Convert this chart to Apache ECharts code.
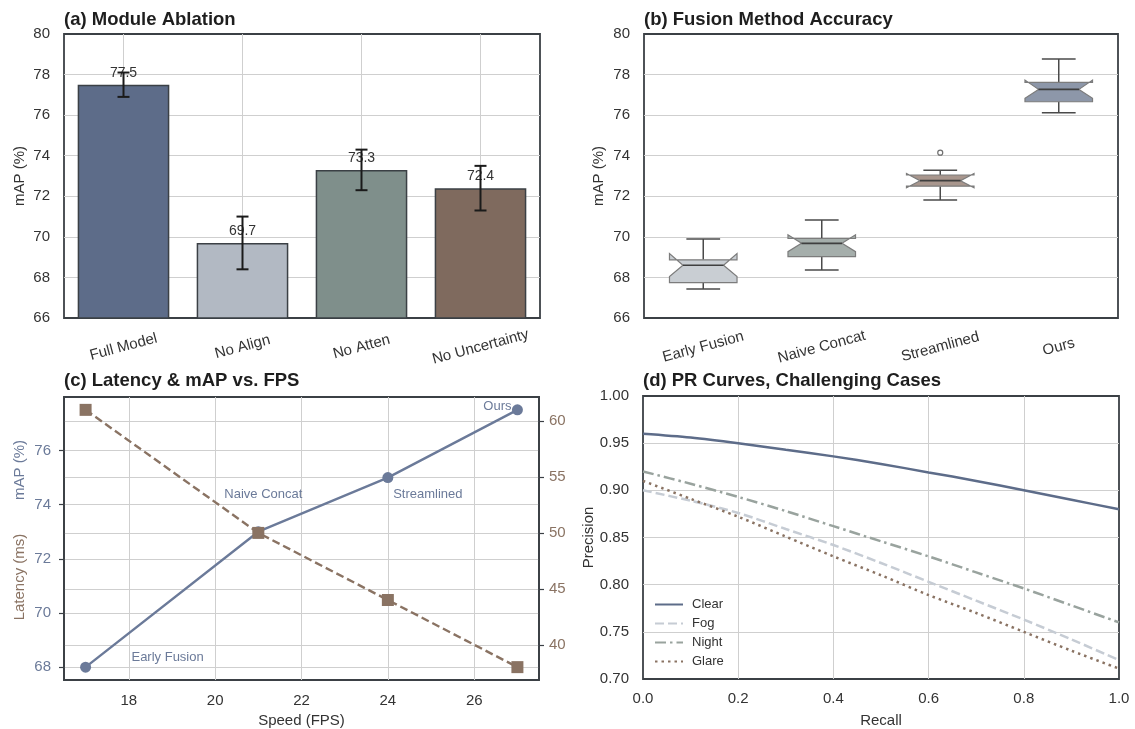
<!DOCTYPE html>
<html>
<head>
<meta charset="utf-8">
<script src="https://cdn.jsdelivr.net/npm/echarts@6/dist/echarts.min.js"></script>
<style>
  html, body { margin: 0; padding: 0; background: #fff; }
  #main { width: 1135px; height: 729px; }
</style>
</head>
<body>
<div id="main"></div>
<script>
// (a) module ablation
const ablationCats = ['Full Model', 'No Align', 'No Atten', 'No Uncertainty'];
const ablationMap = [77.5, 69.7, 73.3, 72.4];
const ablationErrLo = [76.9, 68.4, 72.3, 71.3];
const ablationErrHi = [78.1, 71.0, 74.3, 73.5];

// (b) fusion methods - box stats
const fusionCats = ['Early Fusion', 'Naive Concat', 'Streamlined', 'Ours'];
const boxWhiskerLo = [67.43, 68.37, 71.82, 76.12];
const boxQ1 = [67.74, 69.03, 72.50, 76.66];
const boxNotchLo = [68.05, 69.27, 72.42, 76.83];
const boxMedian = [68.60, 69.68, 72.77, 77.27];
const boxNotchHi = [69.18, 70.10, 73.12, 77.73];
const boxQ3 = [68.87, 69.92, 73.05, 77.62];
const boxWhiskerHi = [69.89, 70.83, 73.28, 78.77];
const outlierCats = ['Streamlined'];
const outlierVals = [74.15];

// (c) speed / latency / mAP
const fps = [17, 21, 24, 27];
const speedMap = [68, 73, 75, 77.5];
const latencyMs = [61, 50, 44, 38];
const fpsTicks = [18, 20, 22, 24, 26];
const mapTicks = [68, 70, 72, 74, 76];
const latTicks = [40, 45, 50, 55, 60];

// (d) PR curves
const recall = [0, 0.1, 0.2, 0.3, 0.4, 0.5, 0.6, 0.7, 0.8, 0.9, 1.0];
const precClear = [0.960, 0.956, 0.950, 0.943, 0.936, 0.928, 0.919, 0.910, 0.900, 0.890, 0.880];
const precFog = [0.900, 0.889, 0.876, 0.859, 0.842, 0.823, 0.803, 0.783, 0.763, 0.742, 0.720];
const precNight = [0.920, 0.907, 0.893, 0.878, 0.862, 0.846, 0.830, 0.813, 0.796, 0.778, 0.760];
const precGlare = [0.910, 0.891, 0.872, 0.851, 0.830, 0.810, 0.789, 0.770, 0.750, 0.730, 0.711];

const FONT = '"Liberation Sans", Arial, sans-serif';
const TXT = '#333';
const FRAME = '#3b4045';
const GRIDLINE = '#cfcfcf';
const SLATE = '#6b7a99';
const BROWN = '#8a7363';
const barColors = ['#5d6c89', '#b2b9c3', '#7f8f8b', '#7f6a5e'];
const boxColors = ['#c9ced3', '#a5aeab', '#a8968d', '#8d97a9'];
// where the method names sit around the points in (c)
const mapLabelOffsets = [[82, -10], [5, -37], [40, 17], [-20, -3]];

const chart = echarts.init(document.getElementById('main'));

const frame = { show: true, borderColor: FRAME, borderWidth: 1.8, backgroundColor: 'transparent' };
const split = { show: true, lineStyle: { color: GRIDLINE, width: 1 } };

function catAxis(idx, data) {
  return {
    type: 'category', gridIndex: idx, data: data,
    axisLine: { show: false }, axisTick: { show: false },
    axisLabel: { rotate: 15, align: 'center', verticalAlign: 'middle', margin: 29, fontSize: 15, color: TXT },
  };
}
function mapAxis(idx, gap) {
  return {
    type: 'value', gridIndex: idx, min: 66, max: 80, interval: 2,
    name: 'mAP (%)', nameLocation: 'middle', nameGap: gap,
    nameTextStyle: { fontSize: 15, color: TXT },
    axisLine: { show: false }, axisTick: { show: false },
    axisLabel: { fontSize: 15, color: TXT, margin: 14 },
    splitLine: { show: true, showMinLine: false, showMaxLine: false, lineStyle: { color: GRIDLINE } },
  };
}

const option = {
  animation: false,
  backgroundColor: '#fff',
  textStyle: { fontFamily: FONT },
  title: [
    { text: '(a) Module Ablation', left: 64, top: 10 },
    { text: '(b) Fusion Method Accuracy', left: 644, top: 10 },
    { text: '(c) Latency & mAP vs. FPS', left: 64, top: 371 },
    { text: '(d) PR Curves, Challenging Cases', left: 643, top: 371 },
  ].map(t => Object.assign(t, { padding: 0, textStyle: { fontSize: 18.5, fontWeight: 'bold', color: '#1e1e1e', fontFamily: FONT } })),
  grid: [
    Object.assign({ left: 64, top: 34, width: 476, height: 284 }, frame),
    Object.assign({ left: 644, top: 34, width: 474, height: 284 }, frame),
    Object.assign({ left: 64, top: 397, width: 475, height: 283 }, frame),
    Object.assign({ left: 643, top: 396, width: 476, height: 283 }, frame),
  ],
  legend: {
    orient: 'vertical', left: 654, top: 598, padding: 0,
    data: ['Clear', 'Fog', 'Night', 'Glare'],
    itemWidth: 28, itemHeight: 10, itemGap: 6,
    itemStyle: { color: 'rgba(0,0,0,0)', borderColor: 'rgba(0,0,0,0)', borderWidth: 0 },
    textStyle: { fontSize: 13, color: TXT, padding: [0, 0, 0, 4] },
  },
  graphic: [
    { type: 'text', x: 20, y: 470, rotation: Math.PI / 2,
      style: { text: 'mAP (%)', fill: SLATE, font: '15px ' + FONT, align: 'center', verticalAlign: 'middle' } },
    { type: 'text', x: 20, y: 577, rotation: Math.PI / 2,
      style: { text: 'Latency (ms)', fill: BROWN, font: '15px ' + FONT, align: 'center', verticalAlign: 'middle' } },
  ],
  xAxis: [
    Object.assign(catAxis(0, ablationCats), { splitLine: Object.assign({ alignWithLabel: true }, split) }),
    catAxis(1, fusionCats),
    {
      type: 'value', gridIndex: 2, min: 16.5, max: 27.5,
      name: 'Speed (FPS)', nameLocation: 'middle', nameGap: 33,
      nameTextStyle: { fontSize: 15, color: TXT },
      axisLine: { show: false },
      axisTick: { show: false, customValues: fpsTicks },
      axisLabel: { customValues: fpsTicks, fontSize: 15, color: TXT, margin: 13 },
      splitLine: split,
    },
    {
      type: 'value', gridIndex: 3, min: 0, max: 1, interval: 0.2,
      name: 'Recall', nameLocation: 'middle', nameGap: 34,
      nameTextStyle: { fontSize: 15, color: TXT },
      axisLine: { show: false }, axisTick: { show: false },
      axisLabel: { fontSize: 15, color: TXT, margin: 12, formatter: v => v.toFixed(1) },
      splitLine: { show: true, showMinLine: false, showMaxLine: false, lineStyle: { color: GRIDLINE } },
    },
  ],
  yAxis: [
    mapAxis(0, 37),
    mapAxis(1, 38),
    {
      type: 'value', gridIndex: 2, min: 67.525, max: 77.975,
      axisLine: { show: true, lineStyle: { color: FRAME, width: 1.8 } },
      axisTick: { show: true, length: 5, customValues: mapTicks, lineStyle: { color: FRAME, width: 1.2 } },
      axisLabel: { customValues: mapTicks, fontSize: 15, color: SLATE, margin: 13 },
      splitLine: split,
    },
    {
      type: 'value', gridIndex: 2, position: 'right', min: 36.85, max: 62.15,
      axisLine: { show: true, lineStyle: { color: FRAME, width: 1.8 } },
      axisTick: { show: true, length: 5, customValues: latTicks, lineStyle: { color: FRAME, width: 1.2 } },
      axisLabel: { customValues: latTicks, fontSize: 15, color: BROWN, margin: 10 },
      splitLine: split,
    },
    {
      type: 'value', gridIndex: 3, min: 0.7, max: 1.0, interval: 0.05,
      name: 'Precision', nameLocation: 'middle', nameGap: 47,
      nameTextStyle: { fontSize: 15, color: TXT },
      axisLine: { show: false }, axisTick: { show: false },
      axisLabel: { fontSize: 15, color: TXT, margin: 14, formatter: v => v.toFixed(2) },
      splitLine: { show: true, showMinLine: false, showMaxLine: false, lineStyle: { color: GRIDLINE } },
    },
  ],
  series: [
    // (a) bars
    {
      type: 'bar', xAxisIndex: 0, yAxisIndex: 0, barWidth: '77%',
      data: ablationMap.map((v, i) => ({ value: v, itemStyle: { color: barColors[i] } })),
      itemStyle: { borderColor: FRAME, borderWidth: 1.5 },
      label: { show: true, position: 'top', distance: 5, fontSize: 14, color: TXT, formatter: p => p.value.toFixed(1) },
    },
    // (a) error bars
    {
      type: 'custom', xAxisIndex: 0, yAxisIndex: 0, z: 5,
      encode: { x: 0, y: [1, 2] },
      data: ablationCats.map((c, i) => [i, ablationErrLo[i], ablationErrHi[i]]),
      renderItem: (params, api) => {
        const lo = api.coord([api.value(0), api.value(1)]);
        const hi = api.coord([api.value(0), api.value(2)]);
        const cap = 6;
        const st = { stroke: '#1a1a1a', lineWidth: 2 };
        return {
          type: 'group', children: [
            { type: 'line', shape: { x1: lo[0], y1: lo[1], x2: hi[0], y2: hi[1] }, style: st },
            { type: 'line', shape: { x1: lo[0] - cap, y1: lo[1], x2: lo[0] + cap, y2: lo[1] }, style: st },
            { type: 'line', shape: { x1: hi[0] - cap, y1: hi[1], x2: hi[0] + cap, y2: hi[1] }, style: st },
          ],
        };
      },
    },
    // (b) notched boxes
    {
      type: 'custom', xAxisIndex: 1, yAxisIndex: 1,
      encode: { x: 0, y: [1, 7] },
      data: fusionCats.map((c, i) => [i, boxWhiskerLo[i], boxQ1[i], boxNotchLo[i], boxMedian[i], boxNotchHi[i], boxQ3[i], boxWhiskerHi[i]]),
      renderItem: (params, api) => {
        const i = api.value(0);
        const cx = api.coord([i, 70])[0];
        const y = v => api.coord([i, v])[1];
        const bw = api.size([1, 0])[0] * 0.57;
        const L = cx - bw / 2, R = cx + bw / 2;
        const nL = L + bw * 0.2, nR = R - bw * 0.2;
        const cap = bw / 4;
        const wlo = y(api.value(1)), q1 = y(api.value(2)), nlo = y(api.value(3)), med = y(api.value(4)),
          nhi = y(api.value(5)), q3 = y(api.value(6)), whi = y(api.value(7));
        const wst = { stroke: '#4a4a4a', lineWidth: 1.5 };
        return {
          type: 'group', children: [
            { type: 'line', shape: { x1: cx, y1: q1, x2: cx, y2: wlo }, style: wst },
            { type: 'line', shape: { x1: cx, y1: q3, x2: cx, y2: whi }, style: wst },
            { type: 'line', shape: { x1: cx - cap, y1: wlo, x2: cx + cap, y2: wlo }, style: wst },
            { type: 'line', shape: { x1: cx - cap, y1: whi, x2: cx + cap, y2: whi }, style: wst },
            {
              type: 'polygon',
              shape: { points: [[L, q1], [R, q1], [R, nlo], [nR, med], [R, nhi], [R, q3], [L, q3], [L, nhi], [nL, med], [L, nlo]] },
              style: { fill: boxColors[i], stroke: '#7c7c7c', lineWidth: 1.2 },
            },
            { type: 'line', shape: { x1: nL, y1: med, x2: nR, y2: med }, style: { stroke: '#3f3f3f', lineWidth: 1.6 } },
          ],
        };
      },
    },
    // (b) outlier
    {
      type: 'scatter', xAxisIndex: 1, yAxisIndex: 1, symbol: 'circle', symbolSize: 5,
      data: outlierCats.map((c, i) => [c, outlierVals[i]]),
      itemStyle: { color: '#fff', borderColor: '#4a4a4a', borderWidth: 1.2 },
    },
    // (c) mAP
    {
      type: 'line', xAxisIndex: 2, yAxisIndex: 2, symbol: 'circle', symbolSize: 11,
      data: fps.map((f, i) => ({ value: [f, speedMap[i]], label: { offset: mapLabelOffsets[i] } })),
      lineStyle: { color: SLATE, width: 2.4 }, itemStyle: { color: SLATE },
      label: { show: true, position: 'inside', fontSize: 13, color: SLATE, formatter: p => fusionCats[p.dataIndex] },
    },
    // (c) latency
    {
      type: 'line', xAxisIndex: 2, yAxisIndex: 3, symbol: 'rect', symbolSize: 12,
      data: fps.map((f, i) => [f, latencyMs[i]]),
      lineStyle: { color: BROWN, width: 2.4, type: [8, 4] }, itemStyle: { color: BROWN },
    },
    // (d) PR curves
    {
      name: 'Clear', type: 'line', xAxisIndex: 3, yAxisIndex: 4, symbol: 'none', smooth: 0.3,
      data: recall.map((r, i) => [r, precClear[i]]),
      lineStyle: { color: '#5d6c89', width: 2.5 }, itemStyle: { color: '#5d6c89' },
    },
    {
      name: 'Fog', type: 'line', xAxisIndex: 3, yAxisIndex: 4, symbol: 'none', smooth: 0.3,
      data: recall.map((r, i) => [r, precFog[i]]),
      lineStyle: { color: '#c6ccd4', width: 2.5, type: [9, 4] }, itemStyle: { color: '#c6ccd4' },
    },
    {
      name: 'Night', type: 'line', xAxisIndex: 3, yAxisIndex: 4, symbol: 'none', smooth: 0.3,
      data: recall.map((r, i) => [r, precNight[i]]),
      lineStyle: { color: '#99a39e', width: 2.5, type: [11, 4, 2.5, 4] }, itemStyle: { color: '#99a39e' },
    },
    {
      name: 'Glare', type: 'line', xAxisIndex: 3, yAxisIndex: 4, symbol: 'none', smooth: 0.3,
      data: recall.map((r, i) => [r, precGlare[i]]),
      lineStyle: { color: BROWN, width: 2.5, type: [2.5, 4] }, itemStyle: { color: BROWN },
    },
  ],
};

chart.setOption(option);
window.addEventListener('resize', () => chart.resize());
</script>
</body>
</html>
